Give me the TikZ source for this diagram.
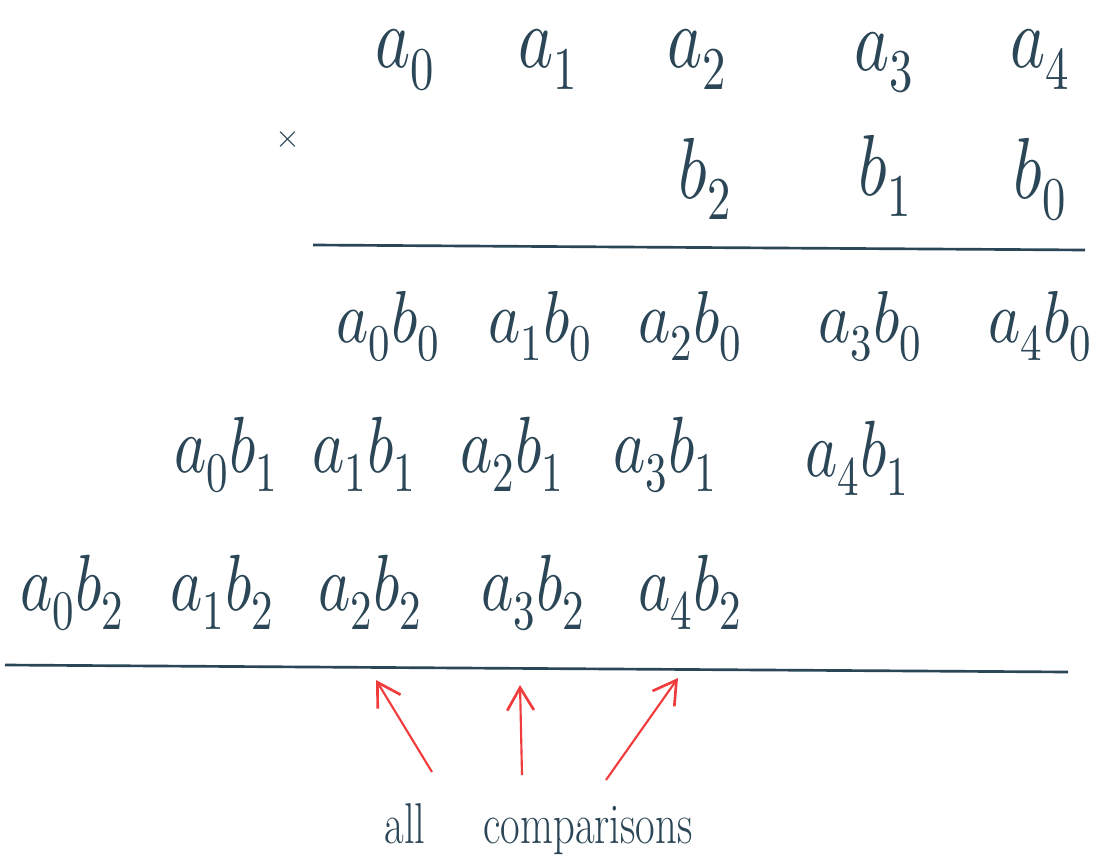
\documentclass[tikz,border=0pt]{standalone}
\usepackage{fontspec}
\usepackage{unicode-math}
\setmathfont{Latin Modern Math}
\usetikzlibrary{arrows.meta}
\definecolor{ink}{HTML}{2B4656}
\definecolor{redink}{HTML}{F03C3C}
\newcommand{\hwA}[1]{\scalebox{1}[1.3]{$#1$}}
\newcommand{\hwB}[1]{\scalebox{1}[1.2]{$#1$}}
\newcommand{\hwT}[1]{\scalebox{1}[1.35]{#1}}
\begin{document}
\begin{tikzpicture}[x=0.75pt,y=-0.75pt,
  term/.style={text=ink,anchor=base,inner sep=0pt,font=\fontsize{50}{50}\selectfont},
  termsm/.style={term,font=\fontsize{46}{46}\selectfont},
  rule/.style={draw=ink,line width=2pt},
  cmp/.style={draw=redink,line width=1.6pt,-{Straight Barb[length=17pt,width=20pt,line width=2pt]}},
  lbl/.style={text=ink,anchor=base,inner sep=0pt,font=\fontsize{32}{32}\selectfont}]
\useasboundingbox[fill=white] (0,0) rectangle (1099,867);
% row 1
\node[term] (a0) at (405,68) {\hwA{a_0}};
\node[term] (a1) at (548,68) {\hwA{a_1}};
\node[term] (a2) at (697,68) {\hwA{a_2}};
\node[term] (a3) at (884,70) {\hwA{a_3}};
\node[term] (a4) at (1040,68) {\hwA{a_4}};
% row 2
\node[text=ink,font=\fontsize{24}{24}\selectfont,inner sep=0pt] (times) at (288,140) {$\times$};
\node[term] (b2) at (705,198) {\hwA{b_2}};
\node[term] (b1) at (885,195) {\hwA{b_1}};
\node[term] (b0) at (1040,198) {\hwA{b_0}};
% first rule
\coordinate (r1s) at (313,245);
\coordinate (r1e) at (1085,250);
\draw[rule] (r1s) -- (r1e);
% row 3
\node[termsm] (p00) at (388,342) {\hwB{a_0b_0}};
\node[termsm] (p10) at (540,342) {\hwB{a_1b_0}};
\node[termsm] (p20) at (690,342) {\hwB{a_2b_0}};
\node[termsm] (p30) at (870,342) {\hwB{a_3b_0}};
\node[termsm] (p40) at (1040,342) {\hwB{a_4b_0}};
% row 4
\node[termsm] (p01) at (226,472) {\hwA{a_0b_1}};
\node[termsm] (p11) at (364,472) {\hwA{a_1b_1}};
\node[termsm] (p21) at (512,472) {\hwA{a_2b_1}};
\node[termsm] (p31) at (665,472) {\hwA{a_3b_1}};
\node[termsm] (p41) at (857,476) {\hwA{a_4b_1}};
% row 5
\node[termsm] (p02) at (72,610) {\hwA{a_0b_2}};
\node[termsm] (p12) at (222,610) {\hwA{a_1b_2}};
\node[termsm] (p22) at (370,610) {\hwA{a_2b_2}};
\node[termsm] (p32) at (533,610) {\hwA{a_3b_2}};
\node[termsm] (p42) at (690,610) {\hwA{a_4b_2}};
% second rule
\coordinate (r2s) at (5,665);
\coordinate (r2e) at (1068,672);
\draw[rule] (r2s) -- (r2e);
% arrows
\coordinate (t1) at (432,772); \coordinate (h1) at (376,680);
\coordinate (t2) at (522,775); \coordinate (h2) at (520,685);
\coordinate (t3) at (606,780); \coordinate (h3) at (678,678);
\draw[cmp] (t1) -- (h1);
\draw[cmp] (t2) -- (h2);
\draw[cmp] (t3) -- (h3);
% label
\node[lbl] (all) at (405,843) {\hwT{all}};
\node[lbl] (comp) at (588,843) {\hwT{comparisons}};
\end{tikzpicture}
\end{document}
